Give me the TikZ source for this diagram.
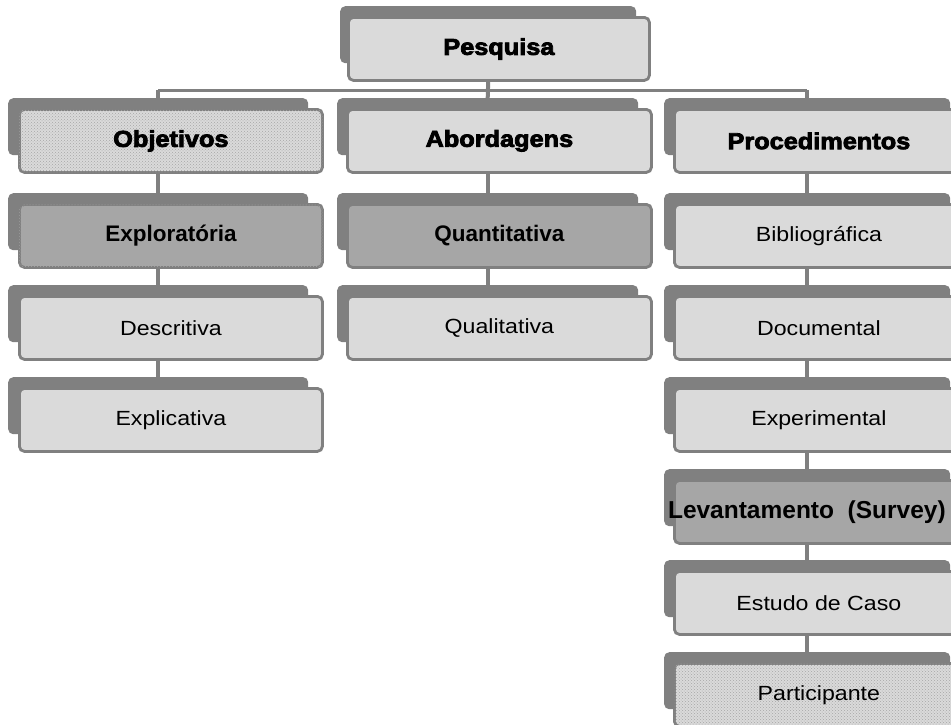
\documentclass[tikz,border=0pt]{standalone}
\usepackage{fontspec}
\usetikzlibrary{patterns}
\setmainfont{Liberation Sans}[FakeStretch=1.13]
\newfontfamily\strongfont{Liberation Sans}[UprightFont={* Bold}]
\newfontfamily\heavyfont{Liberation Sans}[UprightFont={* Bold}, FakeBold=3.5, FakeStretch=1.1]
\definecolor{edge}{HTML}{808080}
\definecolor{lightfill}{HTML}{DADADA}
\definecolor{darkfill}{HTML}{A6A6A6}

% One hierarchy box: a grey offset slab behind a rounded, framed panel.
% #1 name, #2/#3 panel left/right, #4/#5 slab left/right, #6 panel top, #7 extra style, #8 text
\newcommand\tbox[8]{%
  \node[slab, minimum width={#5-#4}, minimum height=57, anchor=north west] (#1-s) at (#4,#6-10) {};
  \node[panel, #7, minimum width={#3-#2}, minimum height=63, anchor=north west] (#1) at (#2,#6) {#8};}

\begin{document}
\begin{tikzpicture}[x=1pt,y=-1pt,
  slab/.style={fill=edge, draw=none, rounded corners=5pt, inner sep=0pt},
  panel/.style={fill=lightfill, draw=edge, line width=2.8pt, rounded corners=5pt, inner sep=0pt,
    text=black, font=\fontsize{20.5}{23}\selectfont},
  heading/.style={font=\heavyfont\fontsize{23}{26}\selectfont},
  strong/.style={font=\strongfont\fontsize{22.5}{25}\selectfont},
  dark/.style={fill=darkfill},
  textured/.style={postaction={pattern=crosshatch dots, pattern color=black!35}},
  conn/.style={draw=edge, line width=4pt},
  bus/.style={draw=edge, line width=3pt}]
\useasboundingbox (0,0) rectangle (951,724);
\clip (0,0) rectangle (951,724);

% root
\tbox{P}{347}{648}{340}{636}{16}{heading, minimum height=66}{Pesquisa}

% column: Objetivos
\tbox{A1}{18}{321}{8}{308}{108}{heading, textured}{Objetivos}
\tbox{A2}{18}{321}{8}{308}{203}{strong, dark, textured}{Exploratória}
\tbox{A3}{18}{321}{8}{308}{295}{}{Descritiva}
\tbox{A4}{18}{321}{8}{308}{387}{}{Explicativa}

% column: Abordagens
\tbox{B1}{346}{650}{337}{638}{108}{heading}{Abordagens}
\tbox{B2}{346}{650}{337}{638}{203}{strong, dark}{Quantitativa}
\tbox{B3}{346}{650}{337}{638}{295}{}{Qualitativa}

% column: Procedimentos
\tbox{C1}{673}{962}{664}{950}{108}{heading}{Procedimentos}
\tbox{C2}{673}{962}{664}{950}{203}{}{Bibliográfica}
\tbox{C3}{673}{962}{664}{950}{295}{}{Documental}
\tbox{C4}{673}{962}{664}{950}{387}{}{Experimental}
\tbox{C5}{673}{962}{664}{950}{479}{dark, font=\strongfont\fontsize{24.5}{27}\selectfont}{\kern-24pt Levantamento\ \ (Survey)}
\tbox{C6}{673}{962}{664}{950}{570}{}{Estudo de Caso}
\tbox{C7}{673}{962}{664}{950}{662}{textured}{Participante}

% root to the three branches
\coordinate (busline) at (0,90);
\draw[conn] (P-s.north |- P.south) -- (B1-s.north);
\draw[bus] (A1-s.north |- busline) -- (C1-s.north |- busline);
\draw[conn] (A1-s.north |- busline) -- (A1-s.north);
\draw[conn] (C1-s.north |- busline) -- (C1-s.north);

% links inside each column
\foreach \a/\b in {A1/A2, A2/A3, A3/A4, B1/B2, B2/B3,
                   C1/C2, C2/C3, C3/C4, C4/C5, C5/C6, C6/C7}
  \draw[conn] (\b-s.north |- \a.south) -- (\b-s.north);
\end{tikzpicture}
\end{document}
